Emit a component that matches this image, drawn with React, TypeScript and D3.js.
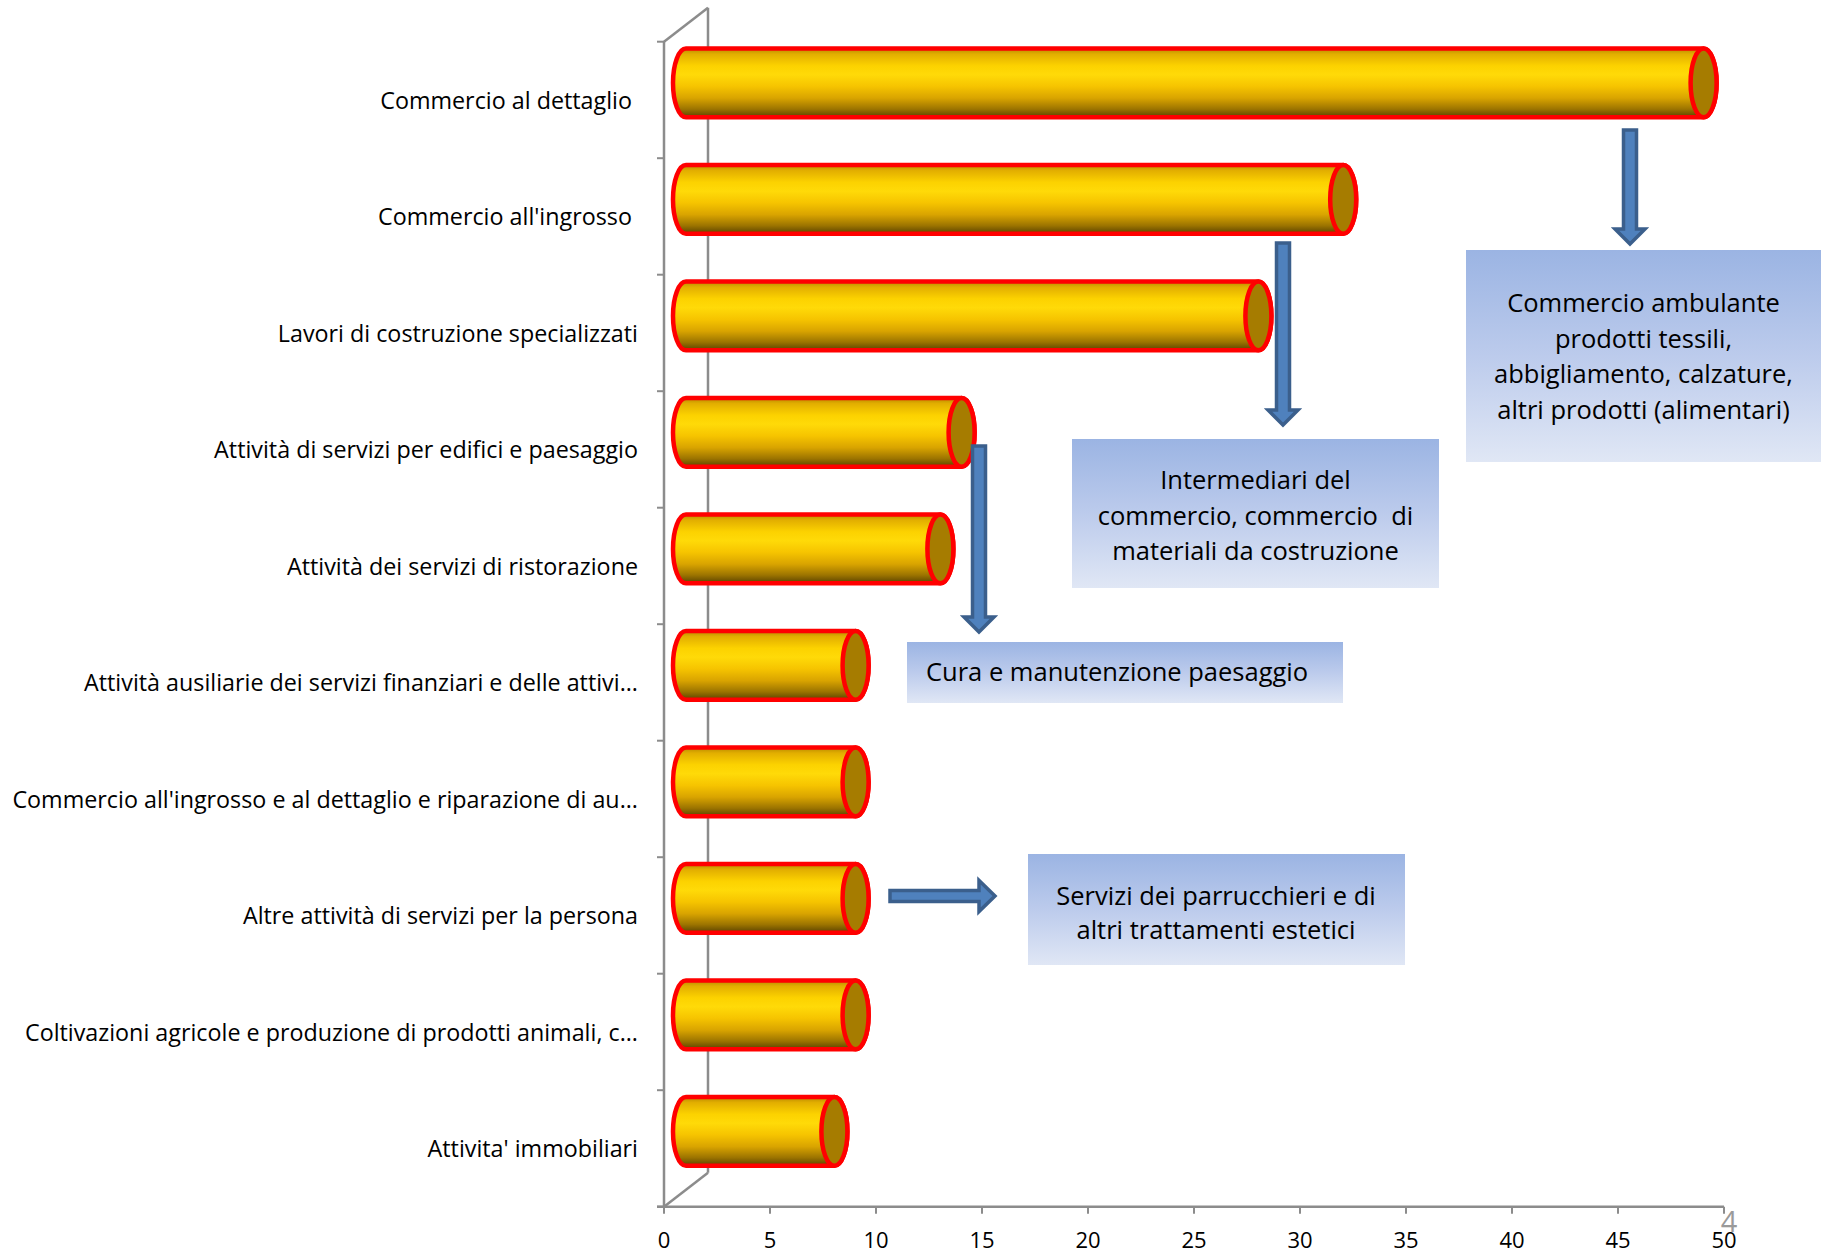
import React from "react";
import * as d3 from "d3";

const categories = [
  "Commercio al dettaglio ",
  "Commercio all'ingrosso ",
  "Lavori di costruzione specializzati",
  "Attività di servizi per edifici e paesaggio",
  "Attività dei servizi di ristorazione",
  "Attività ausiliarie dei servizi finanziari e delle attivi...",
  "Commercio all'ingrosso e al dettaglio e riparazione di au...",
  "Altre attività di servizi per la persona",
  "Coltivazioni agricole e produzione di prodotti animali, c...",
  "Attivita' immobiliari",
];
const values = [48, 31, 27, 13, 12, 8, 8, 8, 8, 7];
const xTicks = [0, 5, 10, 15, 20, 25, 30, 35, 40, 45, 50];

const noteAmbulante = [
  "Commercio ambulante",
  "prodotti tessili,",
  "abbigliamento, calzature,",
  "altri prodotti (alimentari)",
];
const noteIntermediari = [
  "Intermediari del",
  "commercio, commercio  di",
  "materiali da costruzione",
];
const notePaesaggio = ["Cura e manutenzione paesaggio"];
const noteParrucchieri = ["Servizi dei parrucchieri e di", "altri trattamenti estetici"];

const W = 1827;
const H = 1254;
const FONT = "'Open Sans', 'Noto Sans', sans-serif";

const x = d3.scaleLinear().domain([0, 50]).range([664, 1724]);
const y = d3.scaleBand<string>().domain(categories).range([41.7, 1206.7]).padding(0);
const DX = 44;
const DY = -34;
const AXIS = "#8c8c8c";

function downArrow(cx: number, y0: number, tip: number, sw = 13, hw = 30, hh = 15) {
  const yh = tip - hh;
  return `M${cx - sw / 2},${y0} L${cx + sw / 2},${y0} L${cx + sw / 2},${yh} L${cx + hw / 2},${yh} L${cx},${tip} L${cx - hw / 2},${yh} L${cx - sw / 2},${yh} Z`;
}
function rightArrow(cy: number, x0: number, tip: number, sw = 11, hw = 31, hl = 16) {
  const xh = tip - hl;
  return `M${x0},${cy - sw / 2} L${xh},${cy - sw / 2} L${xh},${cy - hw / 2} L${tip},${cy} L${xh},${cy + hw / 2} L${xh},${cy + sw / 2} L${x0},${cy + sw / 2} Z`;
}

function NoteBox({ x0, y0, w, h, lines, cx, firstY, lh, fs, anchor = "middle" }: any) {
  return (
    <g>
      <rect x={x0} y={y0} width={w} height={h} fill="url(#boxGrad)" />
      {lines.map((t: string, i: number) => (
        <text
          key={i}
          x={cx}
          y={firstY + i * lh}
          textAnchor={anchor}
          dominantBaseline="central"
          fontFamily={FONT}
          fontSize={fs}
          fill="#000"
          style={{ whiteSpace: "pre" }}
        >
          {t}
        </text>
      ))}
    </g>
  );
}

export default function App() {
  const bw = y.bandwidth();
  const ry = bw * 0.295;
  const rx = 13;
  const x0 = x(0);
  const yTop = y.range()[0];
  const yBot = y.range()[1];

  return (
    <svg
      width={W}
      height={H}
      style={{ position: "absolute", left: 0, top: 0, background: "#fff" }}
    >
      <defs>
        <linearGradient id="cyl" x1="0" y1="0" x2="0" y2="1">
          <stop offset="0" stopColor="#b88a00" />
          <stop offset="0.08" stopColor="#e2ae00" />
          <stop offset="0.25" stopColor="#fcd200" />
          <stop offset="0.38" stopColor="#ffda08" />
          <stop offset="0.55" stopColor="#f6c400" />
          <stop offset="0.72" stopColor="#d9a400" />
          <stop offset="0.88" stopColor="#9c7400" />
          <stop offset="1" stopColor="#5a4200" />
        </linearGradient>
        <linearGradient id="boxGrad" x1="0" y1="0" x2="0" y2="1">
          <stop offset="0" stopColor="#9bb4e3" />
          <stop offset="0.5" stopColor="#bccbec" />
          <stop offset="1" stopColor="#e0e7f5" />
        </linearGradient>
      </defs>

      {/* back wall & depth lines */}
      <line x1={x0 + DX} y1={yTop + DY} x2={x0 + DX} y2={yBot + DY} stroke={AXIS} strokeWidth={2.5} />
      <line x1={x0} y1={yTop} x2={x0 + DX} y2={yTop + DY} stroke={AXIS} strokeWidth={2.5} />
      <line x1={x0} y1={yBot} x2={x0 + DX} y2={yBot + DY} stroke={AXIS} strokeWidth={2.5} />

      {/* front vertical axis */}
      <line x1={x0} y1={yTop} x2={x0} y2={yBot} stroke={AXIS} strokeWidth={2.5} />
      {[...categories.map((c) => y(c)!), yBot].map((v, i) => (
        <line key={i} x1={x0 - 7} y1={v} x2={x0} y2={v} stroke={AXIS} strokeWidth={2} />
      ))}

      {/* x axis */}
      <line x1={x0 - 7} y1={yBot} x2={x(50)} y2={yBot} stroke={AXIS} strokeWidth={2.5} />
      {xTicks.map((t) => (
        <g key={t}>
          <line x1={x(t)} y1={yBot} x2={x(t)} y2={yBot + 7} stroke={AXIS} strokeWidth={2} />
          <text
            x={x(t)}
            y={yBot + 32}
            textAnchor="middle"
            dominantBaseline="central"
            fontFamily={FONT}
            fontSize={22}
            fill="#000"
          >
            {t}
          </text>
        </g>
      ))}

      {/* category labels */}
      {categories.map((c) => (
        <text
          key={c}
          x={638}
          y={y(c)! + bw / 2}
          textAnchor="end"
          dominantBaseline="central"
          fontFamily={FONT}
          fontSize={23.3}
          fill="#000"
          style={{ whiteSpace: "pre" }}
        >
          {c}
        </text>
      ))}

      {/* cylinders */}
      {categories.map((c, i) => {
        const cy = y(c)! + bw / 2 + DY / 2;
        const xl = x(0) + DX / 2;
        const xr = x(values[i]) + DX / 2;
        const body = `M${xl},${cy - ry} L${xr},${cy - ry} A${rx},${ry} 0 0 1 ${xr},${cy + ry} L${xl},${cy + ry} A${rx},${ry} 0 0 1 ${xl},${cy - ry} Z`;
        return (
          <g key={c}>
            <path d={body} fill="url(#cyl)" stroke="#ff0000" strokeWidth={4.5} strokeLinejoin="round" />
            <ellipse cx={xr} cy={cy} rx={rx} ry={ry} fill="#a67c00" stroke="#ff0000" strokeWidth={4.5} />
          </g>
        );
      })}

      {/* annotations */}
      <NoteBox x0={1466} y0={250} w={355} h={212} lines={noteAmbulante} cx={1643.5} firstY={302} lh={35.5} fs={25.5} />
      <NoteBox x0={1072} y0={439} w={367} h={149} lines={noteIntermediari} cx={1255.5} firstY={479} lh={35.5} fs={25.5} />
      <NoteBox x0={907} y0={642} w={436} h={61} lines={notePaesaggio} cx={926} firstY={671} lh={35} fs={25.5} anchor="start" />
      <NoteBox x0={1028} y0={854} w={377} h={111} lines={noteParrucchieri} cx={1216} firstY={895} lh={34} fs={25.5} />

      <g fill="#4f81bd" stroke="#3b5f8c" strokeWidth={3.5} strokeLinejoin="miter">
        <path d={downArrow(1630, 130, 244)} />
        <path d={downArrow(1283, 243, 425)} />
        <path d={downArrow(979, 446, 632)} />
        <path d={rightArrow(896, 890, 995)} />
      </g>

      <text x={1729} y={1232} textAnchor="middle" fontFamily={FONT} fontSize={29} fill="#9a9a9a">
        4
      </text>
    </svg>
  );
}
